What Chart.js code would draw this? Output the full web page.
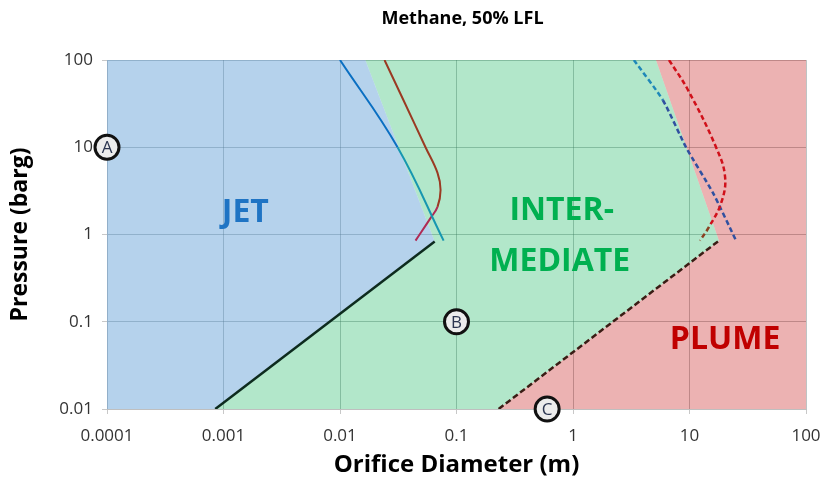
<!DOCTYPE html>
<html>
<head>
<meta charset="utf-8">
<script src="https://cdn.jsdelivr.net/npm/chart.js@4.4.1/dist/chart.umd.min.js"></script>
<style>
  html, body { margin: 0; padding: 0; background: #fff; }
  #wrap { width: 826px; height: 491px; }
</style>
</head>
<body>
<div id="wrap"><canvas id="chart"></canvas></div>
<script>
'use strict';

// Axis ticks (log-log)
const X_TICKS = [0.0001, 0.001, 0.01, 0.1, 1, 10, 100];
const X_TICK_LABELS = ['0.0001', '0.001', '0.01', '0.1', '1', '10', '100'];
const Y_TICKS = [0.01, 0.1, 1, 10, 100];
const Y_TICK_LABELS = ['0.01', '0.1', '1', '10', '100'];

// Regime regions: orifice diameter (m) vs pressure (barg)
const JET_X = [0.0001, 0.0165, 0.065, 0.00085, 0.0001];
const JET_Y = [100, 100, 0.83, 0.01, 0.01];
const INTER_X = [0.0165, 5.15, 17.9, 0.23, 0.00085, 0.065];
const INTER_Y = [100, 100, 0.85, 0.01, 0.01, 0.83];
const PLUME_X = [5.15, 100, 100, 0.23, 17.9];
const PLUME_Y = [100, 100, 0.01, 0.01, 0.85];

// Boundary lines
const JET_EDGE_X = [0.00085, 0.065];
const JET_EDGE_Y = [0.01, 0.83];
const PLUME_EDGE_X = [0.23, 17.9];
const PLUME_EDGE_Y = [0.01, 0.85];

// Curves
const TEAL_X = [0.01, 0.0312, 0.0775];
const TEAL_Y = [100, 10, 0.85];
const BROWN_X = [0.0241, 0.035, 0.0542, 0.0687, 0.073, 0.0687, 0.060, 0.0445];
const BROWN_Y = [100, 34.8, 10, 5.08, 3.24, 2.07, 1.55, 0.85];
const RED_X = [6.67, 9.7, 16.9, 20.2, 18.7, 14.7, 12.3];
const RED_Y = [100, 45.3, 10, 4.57, 2.3, 1.22, 0.85];
const BLUE_X = [3.33, 5.9, 9.33, 15.9, 25.1];
const BLUE_Y = [100, 34.8, 10, 3.0, 0.85];

// Circled point markers
const MARK_LETTERS = ['A', 'B', 'C'];
const MARK_X = [0.0001, 0.1, 0.6];
const MARK_Y = [10, 0.1, 0.01];

// Region labels
const REGION_TEXT = ['JET', 'INTER-', 'MEDIATE', 'PLUME'];
const REGION_X = [0.00154, 0.80, 0.77, 20.2];
const REGION_Y = [1.77, 1.86, 0.485, 0.062];
const REGION_COLORS = ['#1f74c4', '#00b050', '#00b050', '#c00000'];

const TITLE = 'Methane, 50% LFL';
const FONT = '"Open Sans", "Liberation Sans", sans-serif';

function pts(xs, ys) {
  return xs.map((x, i) => ({ x, y: ys[i] }));
}

function region(data, color) {
  return {
    data, showLine: true, fill: 'shape', backgroundColor: color,
    borderWidth: 0, pointRadius: 0, tension: 0, order: 10,
  };
}

function curve(data, color, extra) {
  return Object.assign({
    data, showLine: true, fill: false, borderColor: color, borderWidth: 2,
    pointRadius: 0, tension: 0.4, order: 5,
  }, extra || {});
}

// region names, circled letters and the title (centred over the plot, not the canvas)
const annotate = {
  id: 'annotate',
  afterDatasetsDraw(chart) {
    const { ctx, chartArea } = chart;
    const sx = chart.scales.x, sy = chart.scales.y;
    ctx.save();
    ctx.textAlign = 'center';
    ctx.textBaseline = 'middle';
    ctx.font = 'bold 32px ' + FONT;
    REGION_TEXT.forEach((t, i) => {
      ctx.fillStyle = REGION_COLORS[i];
      ctx.fillText(t, sx.getPixelForValue(REGION_X[i]), sy.getPixelForValue(REGION_Y[i]));
    });
    ctx.font = '17px ' + FONT;
    ctx.fillStyle = '#2b3550';
    MARK_LETTERS.forEach((t, i) => {
      ctx.fillText(t, sx.getPixelForValue(MARK_X[i]), sy.getPixelForValue(MARK_Y[i]) + 1);
    });
    ctx.font = 'bold 18px ' + FONT;
    ctx.fillStyle = '#000';
    ctx.fillText(TITLE, (chartArea.left + chartArea.right) / 2 + 6, 19);
    ctx.restore();
  },
};

const gridColor = 'rgba(70, 85, 85, 0.35)';

new Chart(document.getElementById('chart'), {
  type: 'scatter',
  data: {
    datasets: [
      region(pts(JET_X, JET_Y), 'rgba(91, 155, 213, 0.45)'),
      region(pts(INTER_X, INTER_Y), 'rgba(0, 176, 80, 0.30)'),
      region(pts(PLUME_X, PLUME_Y), 'rgba(192, 0, 0, 0.30)'),
      curve(pts(JET_EDGE_X, JET_EDGE_Y), '#0d2b1e', { tension: 0, borderWidth: 2.5 }),
      curve(pts(PLUME_EDGE_X, PLUME_EDGE_Y), '#3a1c14', { tension: 0, borderWidth: 2.5, borderDash: [6, 3] }),
      curve(pts(TEAL_X, TEAL_Y), '#1797b0', {
        tension: 0.4,
        segment: { borderColor: c => (c.p0DataIndex < 1 ? '#0a6fc2' : '#1797b0') },
      }),
      curve(pts(BROWN_X, BROWN_Y), '#9a3a22', {
        segment: { borderColor: c => (c.p0DataIndex >= 5 ? '#b02a55' : '#9a3a22') },
      }),
      curve(pts(RED_X, RED_Y), '#d0101a', {
        borderWidth: 2.5, borderDash: [5, 3],
        segment: { borderColor: c => (c.p0DataIndex >= 5 ? '#8a4020' : '#d0101a') },
      }),
      curve(pts(BLUE_X, BLUE_Y), '#3050a0', {
        borderWidth: 2.5, borderDash: [5, 3], tension: 0.2,
        segment: { borderColor: c => (c.p0DataIndex < 1 ? '#1f88b8' : '#3050a0') },
      }),
      {
        data: pts(MARK_X, MARK_Y), showLine: false, pointStyle: 'circle',
        pointRadius: 12, pointHoverRadius: 12, pointBorderWidth: 3,
        pointBorderColor: '#111', pointBackgroundColor: '#ececec',
        clip: false, order: 1,
      },
    ],
  },
  options: {
    responsive: true,
    maintainAspectRatio: false,
    animation: false,
    events: [],
    layout: { padding: { left: 0, right: 20, top: 60, bottom: 0 } },
    plugins: {
      legend: { display: false },
      tooltip: { enabled: false },
      title: { display: false },
    },
    scales: {
      x: {
        type: 'logarithmic',
        min: 0.0001,
        max: 100,
        afterBuildTicks: s => { s.ticks = X_TICKS.map(v => ({ value: v })); },
        afterFit: s => { s.height = 82; s.paddingLeft = 0; s.paddingRight = 0; },
        ticks: {
          color: '#333',
          font: { family: FONT, size: 17 },
          padding: 12,
          maxRotation: 0,
          autoSkip: false,
          callback: (v, i) => X_TICK_LABELS[i],
        },
        grid: { color: gridColor, tickLength: 5, tickColor: '#c8c8c8' },
        border: { color: '#bfbfbf' },
        title: {
          display: true,
          text: 'Orifice Diameter (m)',
          color: '#000',
          font: { family: FONT, size: 24, weight: 'bold', lineHeight: 1.2 },
          padding: { top: 0, bottom: 11 },
        },
      },
      y: {
        type: 'logarithmic',
        min: 0.01,
        max: 100,
        afterBuildTicks: s => { s.ticks = Y_TICKS.map(v => ({ value: v })); },
        afterFit: s => { s.width = 107; },
        ticks: {
          color: '#333',
          font: { family: FONT, size: 17 },
          padding: 9,
          autoSkip: false,
          callback: (v, i) => Y_TICK_LABELS[i],
        },
        grid: { color: gridColor, tickLength: 5, tickColor: '#c8c8c8' },
        border: { color: '#bfbfbf' },
        title: {
          display: true,
          text: 'Pressure (barg)',
          color: '#000',
          font: { family: FONT, size: 23, weight: 'bold', lineHeight: 1.2 },
          padding: { top: 7, bottom: 0 },
        },
      },
    },
  },
  plugins: [annotate],
});
</script>
</body>
</html>
